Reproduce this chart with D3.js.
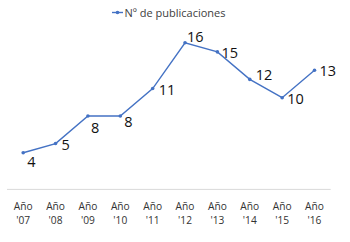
<!DOCTYPE html>
<html>
<head>
<meta charset="utf-8">
<script src="https://cdn.jsdelivr.net/npm/d3@7"></script>
<style>
  body { margin: 0; background: #fff; }
  svg { display: block; }
  .dlabel { font-family: "Open Sans", sans-serif; font-size: 14.5px; fill: #111; }
  .tick-label { font-family: "Open Sans", sans-serif; font-size: 10.2px; fill: #333; }
  .legend-text { font-family: "Open Sans", sans-serif; font-size: 11px; fill: #404040; }
</style>
</head>
<body>
<svg id="chart"></svg>
<script>
// data
var years = ["'07", "'08", "'09", "'10", "'11", "'12", "'13", "'14", "'15", "'16"]
  , publicaciones = [4, 5, 8, 8, 11, 16, 15, 12, 10, 13]
  , series_name = "Nº de publicaciones"
  , tick_prefix = "Año";

// label nudges (Excel labels were dragged around a bit)
var label_dx = [4, 6, 3, 4, 6, 2, 4, 6, 5, 5]
  , label_dy = [14, 6, 17, 11, 6, -1, 6, 1, 6, 6];

var width = 350
  , height = 242
  , blue = "#4472C4";

var svg = d3.select("#chart")
  .attr("width", width)
  .attr("height", height);

var x = d3.scaleBand()
  .domain(years)
  .range([7, 330.7])
  .padding(0);

var y = d3.scaleLinear()
  .domain([0, 18])
  .range([189.4, 24.4]);

var cx = d => x(d) + x.bandwidth() / 2;

// category axis line
svg.append("line")
  .attr("x1", x.range()[0])
  .attr("x2", x.range()[1])
  .attr("y1", y(0))
  .attr("y2", y(0))
  .attr("stroke", "#d9d9d9")
  .attr("stroke-width", 1);

// tick labels, two lines each
var ticks = svg.selectAll(".tick-label")
  .data(years)
 .enter().append("text")
  .attr("class", "tick-label")
  .attr("text-anchor", "middle");

ticks.append("tspan")
  .attr("x", d => cx(d))
  .attr("y", 210)
  .text(tick_prefix);

ticks.append("tspan")
  .attr("x", d => cx(d))
  .attr("y", 224)
  .text(d => d);

// line
var line = d3.line()
  .x((d, i) => cx(years[i]))
  .y(d => y(d));

svg.append("path")
  .datum(publicaciones)
  .attr("d", line)
  .attr("fill", "none")
  .attr("stroke", blue)
  .attr("stroke-width", 1.4);

svg.selectAll(".marker")
  .data(publicaciones)
 .enter().append("circle")
  .attr("class", "marker")
  .attr("cx", (d, i) => cx(years[i]))
  .attr("cy", d => y(d))
  .attr("r", 1.8)
  .attr("fill", blue);

// data labels
svg.selectAll(".dlabel")
  .data(publicaciones)
 .enter().append("text")
  .attr("class", "dlabel")
  .attr("x", (d, i) => cx(years[i]) + label_dx[i])
  .attr("y", (d, i) => y(d) + label_dy[i])
  .text(d => d);

// legend
var legend = svg.append("g")
  .attr("transform", "translate(112,12.5)");

legend.append("line")
  .attr("x1", 0)
  .attr("x2", 11)
  .attr("stroke", blue)
  .attr("stroke-width", 1.4);

legend.append("circle")
  .attr("cx", 5.5)
  .attr("r", 1.8)
  .attr("fill", blue);

legend.append("text")
  .attr("class", "legend-text")
  .attr("x", 12.5)
  .attr("y", 4)
  .text(series_name);
</script>
</body>
</html>
